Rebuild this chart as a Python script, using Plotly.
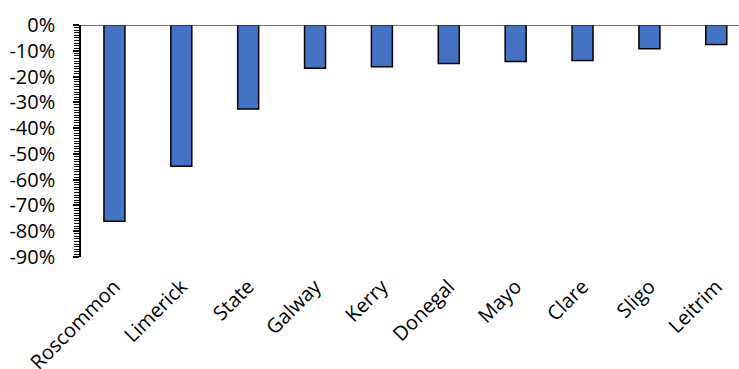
import plotly.graph_objects as go

# Change by county (share, negative = decline)
counties = ["Roscommon", "Limerick", "State", "Galway", "Kerry",
            "Donegal", "Mayo", "Clare", "Sligo", "Leitrim"]
change = [-0.761, -0.548, -0.326, -0.168, -0.162,
          -0.149, -0.142, -0.138, -0.092, -0.076]

y_tickvals = [0, -0.1, -0.2, -0.3, -0.4, -0.5, -0.6, -0.7, -0.8, -0.9]
y_ticktext = ["0%", "-10%", "-20%", "-30%", "-40%",
              "-50%", "-60%", "-70%", "-80%", "-90%"]

FONT = "Open Sans"
Y_RANGE = [-0.9, 0]

fig = go.Figure()
fig.add_trace(go.Bar(
    x=counties,
    y=change,
    width=0.314,
    marker=dict(color="#4472C4", line=dict(color="black", width=1.5)),
    hoverinfo="x+y",
))

fig.update_layout(
    width=739,
    height=369,
    margin=dict(l=81, r=0, t=25, b=112),
    paper_bgcolor="white",
    plot_bgcolor="white",
    showlegend=False,
    font=dict(family=FONT, size=20, color="black"),
    xaxis=dict(
        type="category",
        range=[-0.5, 9.34],
        automargin=False,
        showline=False,
        showgrid=False,
        zeroline=False,
        ticks="",
        tickangle=-45,
        ticklabelstandoff=13,
        tickfont=dict(family=FONT, size=20, color="black"),
    ),
    yaxis=dict(
        range=Y_RANGE,
        automargin=False,
        tickvals=y_tickvals,
        ticktext=y_ticktext,
        showline=True,
        linecolor="black",
        linewidth=1.5,
        showgrid=False,
        zeroline=False,
        ticks="outside",
        ticklen=6,
        tickwidth=1.5,
        tickcolor="black",
        ticklabelstandoff=14,
        minor=dict(dtick=0.01, ticks="outside", ticklen=5,
                   tickwidth=1, tickcolor="black"),
        tickfont=dict(family=FONT, size=20, color="black"),
    ),
    # inner half of the major ticks so they cross the axis line
    yaxis2=dict(
        overlaying="y",
        anchor="x",
        side="left",
        range=Y_RANGE,
        automargin=False,
        tickvals=y_tickvals,
        showticklabels=False,
        showline=False,
        showgrid=False,
        zeroline=False,
        ticks="inside",
        ticklen=6,
        tickwidth=1.5,
        tickcolor="black",
    ),
    # category axis line drawn at zero
    shapes=[dict(type="line", xref="paper", yref="y", x0=0, x1=1,
                 y0=0, y1=0, line=dict(color="#404040", width=1.5))],
)

fig.write_html("out.html")
